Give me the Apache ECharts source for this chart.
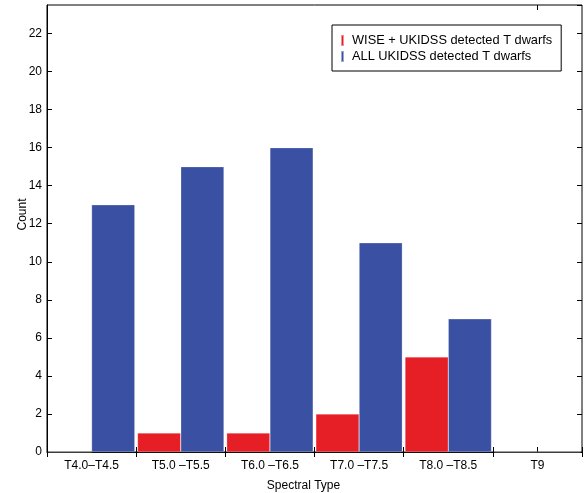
<!DOCTYPE html>
<html>
<head>
<meta charset="utf-8">
<script src="https://cdn.jsdelivr.net/npm/echarts@6/dist/echarts.min.js"></script>
<style>
html,body{margin:0;padding:0;background:#fff;}
#chart{width:588px;height:493px;}
</style>
</head>
<body>
<div id="chart"></div>
<script>
const categories = ['T4.0\u2013T4.5', 'T5.0 \u2013T5.5', 'T6.0 \u2013T6.5', 'T7.0 \u2013T7.5', 'T8.0 \u2013T8.5', 'T9'];
const wiseUkidss = [0, 1, 1, 2, 5, 0];
const allUkidss = [13, 15, 16, 11, 7, 0];
const seriesNames = ['WISE + UKIDSS detected T dwarfs', 'ALL UKIDSS detected T dwarfs'];
const yMin = 0, yMax = 23.5, yStep = 2;

const FONT = '"Liberation Sans", Arial, sans-serif';
const RED = '#e61e26';
const BLUE = '#3a50a2';

const chart = echarts.init(document.getElementById('chart'), null, {renderer: 'canvas'});

function extraX(position) {
  return {
    type: 'category', data: categories, position: position,
    axisLine: {show: false}, axisLabel: {show: false}, splitLine: {show: false},
    axisTick: {show: true, inside: true, length: 5, alignWithLabel: true,
      interval: function (i) { return i === categories.length - 1; },
      lineStyle: {color: '#000', width: 1}}
  };
}

chart.setOption({
  backgroundColor: '#fff',
  animation: false,
  textStyle: {fontFamily: FONT},
  grid: {left: 47, right: 6, top: 5, bottom: 41, show: true, borderColor: '#000', borderWidth: 1,
    backgroundColor: 'transparent', containLabel: false, outerBoundsMode: 'none'},
  legend: {
    orient: 'vertical', left: 332, top: 25,
    data: seriesNames,
    icon: 'rect', itemWidth: 3, itemHeight: 11, itemGap: 3,
    padding: [9, 9, 8, 8],
    borderColor: '#000', borderWidth: 1, backgroundColor: '#fff',
    textStyle: {fontFamily: FONT, fontSize: 12.8, color: '#000', padding: [0, 0, 0, 3]}
  },
  xAxis: [
    {
      type: 'category', data: categories, position: 'bottom',
      name: 'Spectral Type', nameLocation: 'middle', nameGap: 28, nameMoveOverlap: false,
      nameTextStyle: {fontFamily: FONT, fontSize: 12, color: '#000', padding: [0, 22, 0, 0]},
      axisLine: {show: true, lineStyle: {color: '#000', width: 1}},
      axisTick: {show: true, inside: true, length: 5, lineStyle: {color: '#000'}},
      axisLabel: {fontFamily: FONT, fontSize: 12, color: '#000', margin: 8},
      splitLine: {show: false}
    },
    {
      type: 'category', data: categories, position: 'top',
      axisLine: {show: false}, axisLabel: {show: false}, splitLine: {show: false},
      axisTick: {show: true, inside: true, length: 5, lineStyle: {color: '#000'}}
    },
    extraX('bottom'),
    extraX('top')
  ],
  yAxis: [
    {
      type: 'value', min: yMin, max: yMax, interval: yStep, position: 'left',
      name: 'Count', nameLocation: 'middle', nameGap: 18, nameRotate: 90, nameMoveOverlap: false,
      nameTextStyle: {fontFamily: FONT, fontSize: 12, color: '#000', padding: [0, 0, 0, 28]},
      axisLine: {show: true, lineStyle: {color: '#000', width: 1}},
      axisTick: {show: true, inside: true, length: 5, lineStyle: {color: '#000'}},
      axisLabel: {fontFamily: FONT, fontSize: 12, color: '#000', margin: 5, showMaxLabel: false},
      splitLine: {show: false}
    },
    {
      type: 'value', min: yMin, max: yMax, interval: yStep, position: 'right',
      axisLine: {show: false}, axisLabel: {show: false}, splitLine: {show: false},
      axisTick: {show: true, inside: true, length: 5, lineStyle: {color: '#000'}}
    }
  ],
  series: [
    {
      name: seriesNames[0], type: 'bar', data: wiseUkidss, xAxisIndex: 0, yAxisIndex: 0,
      barGap: '0%', barCategoryGap: '3%',
      itemStyle: {color: RED, borderColor: 'rgba(255,255,255,0.5)', borderWidth: 0.5}
    },
    {
      name: seriesNames[1], type: 'bar', data: allUkidss, xAxisIndex: 0, yAxisIndex: 0,
      barGap: '0%', barCategoryGap: '3%',
      itemStyle: {color: BLUE, borderColor: 'rgba(255,255,255,0.5)', borderWidth: 0.5}
    }
  ]
});
</script>
</body>
</html>
